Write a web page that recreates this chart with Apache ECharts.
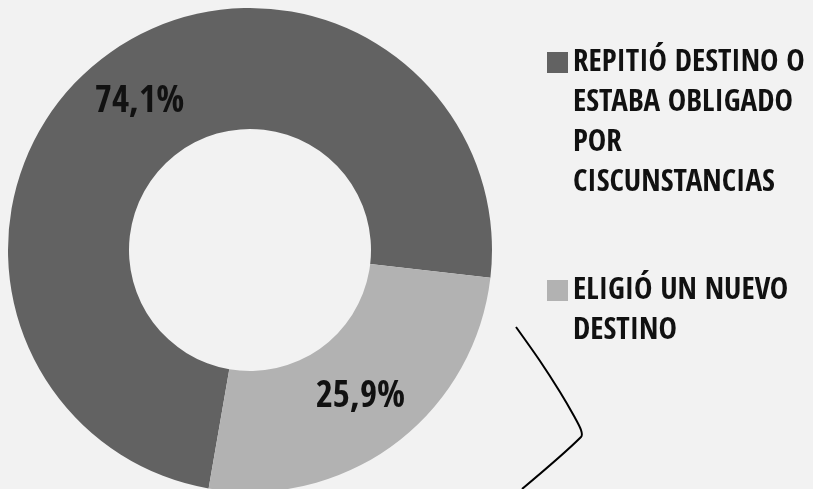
<!DOCTYPE html>
<html>
<head>
<meta charset="utf-8">
<script src="https://cdn.jsdelivr.net/npm/echarts@6/dist/echarts.min.js"></script>
<style>
html,body{margin:0;padding:0;background:#f2f2f2;}
#chart{width:813px;height:489px;}
</style>
</head>
<body>
<div id="chart"></div>
<script>
const categories = ['REPITIÓ DESTINO O ESTABA OBLIGADO POR CISCUNSTANCIAS', 'ELIGIÓ UN NUEVO DESTINO'];
const legendLines = [
  ['REPITIÓ DESTINO O', 'ESTABA OBLIGADO', 'POR', 'CISCUNSTANCIAS'],
  ['ELIGIÓ UN NUEVO', 'DESTINO']
];
const values = [74.1, 25.9];
const colors = ['#626262', '#b2b2b2'];

const FONT = '"Open Sans Condensed", "Roboto Condensed", sans-serif';
const chart = echarts.init(document.getElementById('chart'));
chart.setOption({
  backgroundColor: '#f2f2f2',
  animation: false,
  legend: {
    orient: 'vertical',
    left: 547,
    top: -77.5,
    padding: 0,
    itemWidth: 21,
    itemHeight: 21,
    itemGap: 28,
    icon: 'rect',
    data: categories,
    formatter: function (name) {
      const lines = legendLines[categories.indexOf(name)];
      return '\n'.repeat(lines.length - 1) + lines.join('\n');
    },
    textStyle: {
      fontFamily: FONT,
      fontWeight: 'bold',
      fontSize: 31,
      lineHeight: 40,
      color: '#111'
    }
  },
  graphic: [{
    type: 'polyline',
    shape: {
      points: [[516, 327], [540, 361], [560, 392], [574, 416], [581, 430], [581, 437], [522, 489]],
      smooth: 0.3
    },
    style: { stroke: '#000', lineWidth: 2, fill: null }
  }],
  series: [{
    type: 'pie',
    center: [250, 250],
    radius: [121, 242],
    startAngle: 260.15,
    clockwise: true,
    color: colors,
    label: {
      show: true,
      position: 'inside',
      formatter: function (p) { return p.value.toFixed(1).replace('.', ',') + '%'; },
      fontFamily: FONT,
      fontWeight: 'bold',
      fontSize: 37,
      color: '#111'
    },
    labelLine: { show: false },
    emphasis: { disabled: true },
    data: categories.map((c, i) => ({ name: c, value: values[i] }))
  }]
});
</script>
</body>
</html>
